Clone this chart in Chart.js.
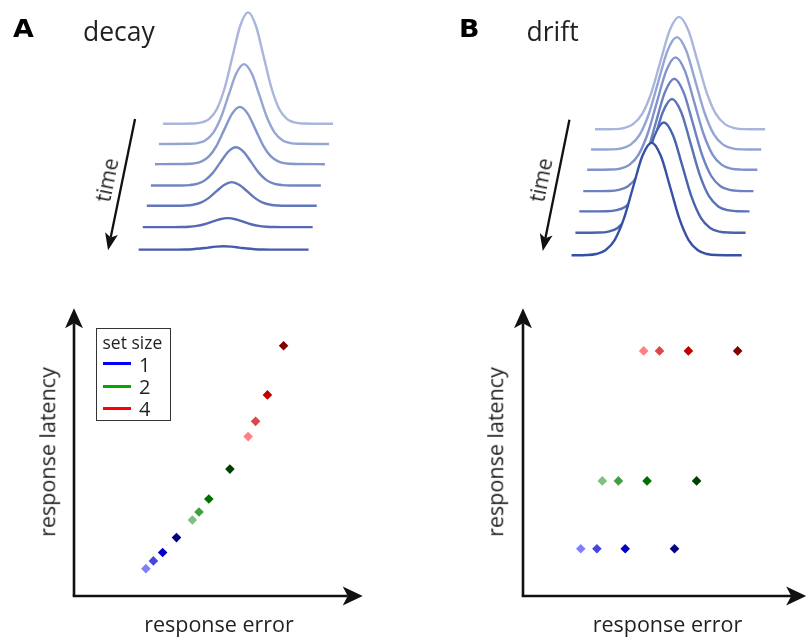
<!DOCTYPE html>
<html>
<head>
<meta charset="utf-8">
<script src="https://cdn.jsdelivr.net/npm/chart.js@4"></script>
<style>
  body { margin: 0; background: #fff; }
  #fig { position: relative; width: 811px; height: 638px; overflow: hidden;
         font-family: "Open Sans", sans-serif; color: #231f20; }
  #fig canvas { position: absolute; }
  .lbl { position: absolute; line-height: 1; white-space: nowrap; }
  .panel { font-family: "DejaVu Sans", sans-serif; font-weight: bold; font-size: 24px;
           transform-origin: left top; transform: scaleX(1.12); color: #000; }
  .title { font-size: 26.5px; }
  .axis { font-size: 21.5px; }
  .center { transform: translateX(-50%); }
  .vert { transform: translate(-50%, -50%) rotate(-90deg); }
  .time { font-size: 21px; transform: translate(-50%, -50%) rotate(-78.4deg); }
  #legendBox { position: absolute; left: 96px; top: 328px; width: 73px; height: 91px;
               border: 1.5px solid #333; }
  .key { position: absolute; height: 3px; width: 28px; }
  .legtxt { font-size: 17.5px; }
  .digit { font-size: 20px; }
</style>
</head>
<body>
<div id="fig">
  <canvas id="decayCurves" width="400" height="280" style="left:0;top:0"></canvas>
  <canvas id="driftCurves" width="411" height="280" style="left:400px;top:0"></canvas>
  <canvas id="decayScatter" width="400" height="348" style="left:0;top:290px"></canvas>
  <canvas id="driftScatter" width="411" height="348" style="left:400px;top:290px"></canvas>

  <div class="lbl panel" style="left:13px;top:17px">A</div>
  <div class="lbl panel" style="left:459px;top:17px">B</div>
  <div class="lbl title" style="left:83px;top:17.5px">decay</div>
  <div class="lbl title" style="left:526.5px;top:17.5px">drift</div>
  <div class="lbl time" style="left:106.7px;top:180px">time</div>
  <div class="lbl time" style="left:540.7px;top:180px">time</div>

  <div class="lbl axis center" style="left:219px;top:612.5px">response error</div>
  <div class="lbl axis center" style="left:667.5px;top:612.5px">response error</div>
  <div class="lbl axis vert" style="left:47px;top:452px">response latency</div>
  <div class="lbl axis vert" style="left:494.5px;top:452px">response latency</div>

  <div id="legendBox"></div>
  <div class="lbl legtxt" style="left:102.5px;top:334px">set size</div>
</div>
<script>
// normalised tuning curve, sampled at offsets given in s.d. units
const bumpOffsets = [-3.5, -3, -2.5, -2, -1.5, -1, -0.5, 0, 0.5, 1, 1.5, 2, 2.5, 3, 3.5];
const bumpShape = [0.002, 0.011, 0.044, 0.135, 0.325, 0.607, 0.882, 1, 0.882, 0.607, 0.325, 0.135, 0.044, 0.011, 0.002];

// panel A (decay): peak height of each row, peak position stays put
const decayHeights = [0.99, 0.71, 0.51, 0.34, 0.21, 0.08, 0.03];
const decayCenters = [0, 0, 0, 0, 0, 0, 0];
// panel B (drift): height stays, peak position wanders
const driftHeights = [1, 1, 1, 1, 1, 0.98, 1];
const driftCenters = [-0.055, 0.04, 0.18, 0.32, 0.41, 0.18, -0.27];

// scatter plots, one list per set size (light -> dark)
const setSizes = ['1', '2', '4'];
const decayError = [[24.9, 27.5, 30.7, 35.5], [41.0, 43.3, 46.7, 54.0], [60.3, 62.9, 67.0, 72.6]];
const decayLatency = [[9.5, 12.2, 15.1, 20.3], [26.4, 29.2, 33.7, 44.1], [55.4, 60.7, 69.9, 87.0]];
const driftError = [[20.4, 26.1, 36.1, 53.5], [28.0, 33.7, 43.8, 61.3], [42.6, 48.2, 58.4, 75.8]];
const driftLatency = [[16.4, 16.4, 16.4, 16.4], [40.0, 40.0, 40.0, 40.0], [85.2, 85.2, 85.2, 85.2]];

// styles
const rowDrop = [0, 0.18, 0.36, 0.55, 0.73, 0.92, 1.12];
const decayColors = ['#a9b6dc', '#96a6d4', '#8496cc', '#7286c3', '#6277bb', '#5369b3', '#455dac'];
const driftColors = ['#a9b6dc', '#94a4d3', '#8093ca', '#6c82c0', '#5a72b7', '#4763ae', '#3650a5'];
const pointColors = [
  ['#8080ff', '#4646dc', '#0000c8', '#000080'],
  ['#80c080', '#40a040', '#007000', '#004000'],
  ['#ff8080', '#dc4646', '#c00000', '#800000']
];
const legendColors = ['#0000ff', '#00aa00', '#ff0000'];

function arrow(ctx, x0, y0, x1, y1, len, half, notch, width) {
  const dx = x1 - x0, dy = y1 - y0, d = Math.hypot(dx, dy);
  const ux = dx / d, uy = dy / d, px = -uy, py = ux;
  const bx = x1 - ux * (len - notch), by = y1 - uy * (len - notch);
  ctx.save();
  ctx.strokeStyle = ctx.fillStyle = '#111';
  ctx.lineWidth = width;
  ctx.beginPath();
  ctx.moveTo(x0, y0);
  ctx.lineTo(bx, by);
  ctx.stroke();
  ctx.beginPath();
  ctx.moveTo(x1, y1);
  ctx.lineTo(x1 - ux * len + px * half, y1 - uy * len + py * half);
  ctx.lineTo(bx, by);
  ctx.lineTo(x1 - ux * len - px * half, y1 - uy * len - py * half);
  ctx.closePath();
  ctx.fill();
  ctx.restore();
}

const timeArrow = {
  id: 'timeArrow',
  afterDraw(chart, args, opts) {
    const sx = chart.scales.x, sy = chart.scales.y;
    arrow(chart.ctx,
      sx.getPixelForValue(opts.from[0]), sy.getPixelForValue(opts.from[1]),
      sx.getPixelForValue(opts.to[0]), sy.getPixelForValue(opts.to[1]),
      17, 6.5, 4, 2.3);
  }
};

const axesArrows = {
  id: 'axesArrows',
  afterDraw(chart) {
    const a = chart.chartArea, ctx = chart.ctx;
    arrow(ctx, a.left - 1.3, a.bottom, a.right, a.bottom, 20, 9.5, 5, 2.6);
    arrow(ctx, a.left, a.bottom, a.left, a.top, 20, 9, 5, 2.6);
  }
};

function curveRow(row, height, center, halfSpan, shiftX) {
  const x0 = row * shiftX, y0 = -rowDrop[row];
  const pts = [{ x: x0 - halfSpan, y: y0 }];
  bumpOffsets.forEach((o, k) => pts.push({ x: x0 + center + o, y: y0 + height * bumpShape[k] }));
  pts.push({ x: x0 + halfSpan, y: y0 });
  return pts;
}

function curveChart(id, heights, centers, colors, halfSpan, shiftX, xr, yr, from, to) {
  new Chart(document.getElementById(id), {
    type: 'line',
    data: {
      datasets: heights.map((h, i) => ({
        data: curveRow(i, h, centers[i], halfSpan, shiftX),
        borderColor: colors[i],
        borderWidth: 2.4,
        backgroundColor: '#fff',
        fill: 'start',
        pointRadius: 0,
        cubicInterpolationMode: 'monotone',
        order: heights.length - i
      }))
    },
    options: {
      responsive: false,
      animation: false,
      events: [],
      layout: { padding: 0 },
      scales: {
        x: { type: 'linear', display: false, min: xr[0], max: xr[1] },
        y: { display: false, min: yr[0], max: yr[1] }
      },
      plugins: {
        legend: { display: false },
        tooltip: { enabled: false },
        timeArrow: { from: from, to: to }
      }
    },
    plugins: [timeArrow]
  });
}

function scatterChart(id, errors, latencies, padding) {
  new Chart(document.getElementById(id), {
    type: 'scatter',
    data: {
      datasets: setSizes.map((s, i) => ({
        label: 'set size ' + s,
        data: errors[i].map((x, k) => ({ x: x, y: latencies[i][k] })),
        pointStyle: 'rectRot',
        pointRadius: 4.8,
        pointBorderWidth: 0,
        pointBackgroundColor: pointColors[i],
        pointBorderColor: pointColors[i]
      }))
    },
    options: {
      responsive: false,
      animation: false,
      events: [],
      layout: { padding: padding },
      scales: {
        x: { display: false, min: 0, max: 100 },
        y: { display: false, min: 0, max: 100 }
      },
      plugins: { legend: { display: false }, tooltip: { enabled: false } }
    },
    plugins: [axesArrows]
  });
}

curveChart('decayCurves', decayHeights, decayCenters, decayColors, 5.48, -0.2625,
  [-16, 9.8], [-1.39, 1.1], [-7.29, 0.042], [-9.03, -1.126]);
curveChart('driftCurves', driftHeights, driftCenters, driftColors, 4.6, -0.211,
  [-15.14, 7.08], [-1.34, 1.15], [-5.98, 0.086], [-7.42, -1.082]);

scatterChart('decayScatter', decayError, decayLatency, { left: 74, right: 37.3, top: 18.3, bottom: 42 });
scatterChart('driftScatter', driftError, driftLatency, { left: 123, right: 0.3, top: 18.3, bottom: 42 });

// legend built from the set sizes
const fig = document.getElementById('fig');
setSizes.forEach((s, i) => {
  const key = document.createElement('div');
  key.className = 'key';
  key.style.left = '103.3px';
  key.style.top = (362.2 + i * 22.3) + 'px';
  key.style.background = legendColors[i];
  fig.appendChild(key);
  const t = document.createElement('div');
  t.className = 'lbl digit';
  t.style.left = '139px';
  t.style.top = (354.5 + i * 22.3) + 'px';
  t.textContent = s;
  fig.appendChild(t);
});
</script>
</body>
</html>
